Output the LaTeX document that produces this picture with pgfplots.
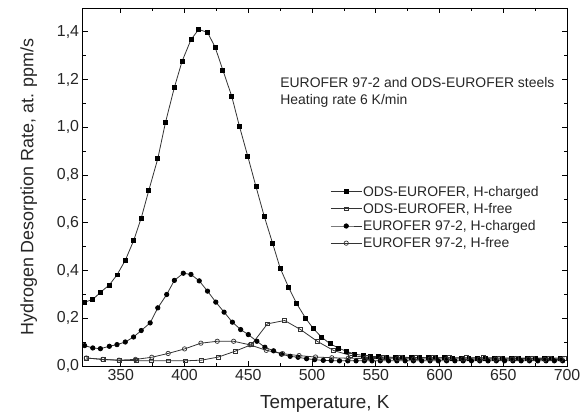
\documentclass[border=0pt]{standalone}
\usepackage{fontspec}
\setmainfont{Liberation Sans}
\usepackage{pgfplots}
\pgfplotsset{compat=1.18}
\begin{document}
\begin{tikzpicture}
\useasboundingbox (-83pt,-51pt) rectangle (501pt,368pt);
\begin{axis}[
  at={(0,0)}, anchor=south west,
  width=487pt, height=360pt, scale only axis,
  xmin=320, xmax=700, ymin=0, ymax=1.5,
  xtick={350,400,...,700},
  ytick={0,0.2,...,1.4},
  minor x tick num=1, minor y tick num=1,
  tick align=inside,
  major tick length=5pt, minor tick length=3pt,
  axis line style={line width=0.9pt},
  tick style={line width=0.7pt, black},
  /pgf/number format/assume math mode=true,
  yticklabel style={/pgf/number format/.cd, fixed, fixed zerofill, precision=1, use comma},
  xticklabel style={/pgf/number format/.cd, fixed, precision=0, 1000 sep={}},
  tick label style={font=\fontsize{16}{18}\selectfont, text=black!85},
  xlabel style={font=\fontsize{19}{22}\selectfont, text=black!85},
  ylabel style={font=\fontsize{18}{21}\selectfont, text=black!85},
  xlabel shift=8pt,
  ylabel shift=13pt,
  xlabel={Temperature, K},
  ylabel={Hydrogen Desorption Rate, at. ppm/s},
  legend style={draw=none, fill=none, at={(0.505,0.512)}, anchor=north west,
    font=\fontsize{14}{15}\selectfont, text=black!85, row sep=3.6pt, nodes={inner sep=1pt}},
  legend cell align=left,
  legend image code/.code={\draw[mark repeat=2,mark phase=2] plot coordinates {(0pt,0pt) (15.5pt,0pt) (31pt,0pt)};},
  every axis plot/.append style={line width=0.8pt, black!80},
]
% ODS-EUROFER, H-charged
\addplot[mark=square*, mark size=2pt, mark options={fill=black, draw=black}] coordinates {
(321.6,0.268) (328,0.279) (334,0.309) (341,0.340) (347,0.382) (353.5,0.443) (360,0.525) (366,0.620)
(372,0.737) (379,0.869) (385,1.020) (392,1.167) (398,1.276) (405,1.367) (411,1.410) (418,1.398)
(424,1.335) (430,1.240) (437,1.130) (443,1.005) (449.5,0.880) (456,0.752) (462.5,0.627) (469,0.515)
(475,0.410) (481.5,0.331) (488,0.261) (495,0.200) (501,0.157) (507.5,0.121) (514,0.094) (520.5,0.076)
(527,0.062) (533.5,0.050) (540,0.045) (546,0.041) (552,0.039) (558,0.038) (565,0.037) (571,0.037)
(578,0.036) (584,0.036) (591,0.035) (597,0.035) (604,0.035) (610,0.034) (617,0.034) (623,0.034)
(630,0.034) (636,0.033) (643,0.033) (649,0.033) (656,0.033) (662,0.032) (669,0.032) (675,0.032)
(682,0.032) (688,0.031) (695,0.031)
};
\addlegendentry{ODS-EUROFER, H-charged}
% ODS-EUROFER, H-free
\addplot[mark=square, mark size=2pt, mark options={fill=white, draw=black!80, line width=0.7pt}] coordinates {
(323,0.034) (336,0.028) (349,0.024) (362,0.023) (374,0.022) (387.5,0.022) (400.5,0.022) (413.5,0.025)
(426.5,0.038) (439.5,0.062) (452.5,0.090) (465,0.177) (478.5,0.191) (491,0.153) (504,0.104) (517,0.065)
(530,0.045) (543,0.036) (556,0.035) (569,0.035) (582,0.035) (595,0.035) (608,0.035) (621,0.035)
(634,0.035) (647,0.034) (660,0.034) (673,0.034) (686,0.034) (698,0.034)
};
\addlegendentry{ODS-EUROFER, H-free}
% EUROFER 97-2, H-charged
\addplot[mark=*, mark size=2.2pt, mark options={fill=black, draw=black}] coordinates {
(321.6,0.086) (328,0.076) (334,0.073) (341,0.083) (347,0.090) (353.5,0.101) (360,0.122) (366,0.149)
(373,0.181) (379,0.244) (386,0.300) (392,0.359) (399,0.389) (405,0.384) (411.5,0.357) (418,0.314)
(424.5,0.268) (431,0.226) (437.5,0.184) (444,0.153) (450,0.132) (456.7,0.104) (463,0.079) (469.8,0.064)
(476,0.050) (482.8,0.041) (489,0.037) (495.7,0.031) (502,0.027) (508.8,0.024) (515,0.023) (521.5,0.022)
(528,0.022) (534.5,0.022) (541,0.022) (547,0.022) (553.5,0.022) (560,0.022) (566.5,0.022) (573,0.022)
(579.5,0.022) (586,0.022) (592.5,0.022) (599,0.022) (605.5,0.022) (612,0.022) (618.5,0.022) (625,0.022)
(631.5,0.022) (638,0.022) (644.5,0.022) (651,0.022) (657.5,0.022) (664,0.022) (670.5,0.022) (677,0.022)
(683.5,0.022) (690,0.022) (696.5,0.022)
};
\addlegendentry{EUROFER 97-2, H-charged}
% EUROFER 97-2, H-free
\addplot[mark=o, mark size=2.2pt, mark options={fill=white, draw=black!80, line width=0.7pt}] coordinates {
(322.9,0.034) (335.8,0.028) (348.6,0.025) (361.5,0.028) (374.3,0.037) (387.1,0.053) (400,0.072) (412.8,0.096)
(425.6,0.104) (438.5,0.104) (451.3,0.089) (464.1,0.066) (477,0.052) (489.8,0.044) (502.7,0.038) (515.5,0.035)
(528.4,0.033) (541.2,0.032) (554,0.031) (566.9,0.031) (579.7,0.030) (592.6,0.030) (605.4,0.030) (618.3,0.030)
(631.1,0.029) (643.9,0.029) (656.8,0.029) (669.6,0.029) (682.5,0.028) (695.3,0.028)
};
\addlegendentry{EUROFER 97-2, H-free}
\node[anchor=west, align=left, font=\fontsize{14}{17}\selectfont, text=black!85, inner sep=0pt]
  at (axis cs:475,1.148) {EUROFER 97-2 and ODS-EUROFER steels\\Heating rate 6 K/min};
\end{axis}
\end{tikzpicture}
\end{document}
